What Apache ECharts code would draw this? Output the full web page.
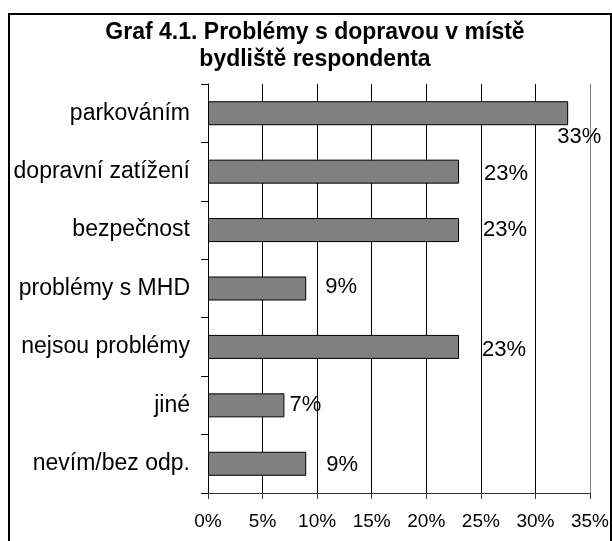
<!DOCTYPE html>
<html>
<head>
<meta charset="utf-8">
<script src="https://cdn.jsdelivr.net/npm/echarts@6/dist/echarts.min.js"></script>
<style>
  html, body { margin: 0; padding: 0; background: #fff; }
  #chart { width: 612px; height: 541px; }
</style>
</head>
<body>
<div id="chart"></div>
<script>
// categories top to bottom
const categories = ['parkováním', 'dopravní zatížení', 'bezpečnost', 'problémy s MHD', 'nejsou problémy', 'jiné', 'nevím/bez odp.'];
// share of respondents, %
const shares = [33, 23, 23, 9, 23, 7, 9];
// x axis ticks, %
const xTicks = [0, 5, 10, 15, 20, 25, 30, 35];
// label nudges (px) so labels sit where the original put them
const labelNudge = [[-11, 24], [25, 2], [24, 0], [19, -2], [23, 3], [5, 0], [20, 1]];

const font = "'Liberation Sans', Arial, sans-serif";
const chart = echarts.init(document.getElementById('chart'), null, { renderer: 'canvas' });

const gridColors = xTicks.map((t, i) => i === xTicks.length - 1 ? '#808080' : '#000');

const option = {
    animation: false,
    backgroundColor: '#fff',
    title: {
        text: 'Graf 4.1. Problémy s dopravou v místě\nbydliště respondenta',
        left: 315,
        top: 19,
        textAlign: 'center',
        padding: 0,
        textStyle: {
            fontFamily: font,
            fontSize: 23,
            fontWeight: 'bold',
            color: '#000',
            lineHeight: 27
        }
    },
    graphic: [{
        type: 'rect',
        shape: { x: 9, y: 14, width: 602, height: 540 },
        style: { fill: 'none', stroke: '#000', lineWidth: 2 },
        silent: true
    }],
    grid: { left: 208, right: 19, top: 84, bottom: 48, containLabel: false },
    xAxis: {
        type: 'value',
        min: xTicks[0],
        max: xTicks[xTicks.length - 1],
        interval: 5,
        axisLine: { show: true, lineStyle: { color: '#333', width: 1 } },
        axisTick: { show: true, length: 6, lineStyle: { color: '#333' } },
        splitLine: { show: true, lineStyle: { color: gridColors, width: 1 } },
        axisLabel: {
            formatter: '{value}%',
            margin: 19,
            fontFamily: font,
            fontSize: 19,
            color: '#000'
        }
    },
    yAxis: {
        type: 'category',
        inverse: true,
        data: categories,
        axisLine: { show: true, lineStyle: { color: '#000', width: 1 } },
        axisTick: { show: true, length: 7, lineStyle: { color: '#000' } },
        axisLabel: {
            margin: 18,
            fontFamily: font,
            fontSize: 23,
            color: '#000'
        }
    },
    series: [{
        type: 'bar',
        barWidth: 24,
        data: shares.map((v, i) => ({ value: v, label: { offset: labelNudge[i] } })),
        itemStyle: { color: '#808080', borderColor: '#000', borderWidth: 1 },
        label: {
            show: true,
            position: 'right',
            distance: 0,
            formatter: '{c}%',
            fontFamily: font,
            fontSize: 22,
            color: '#000'
        }
    }]
};

chart.setOption(option);
</script>
</body>
</html>
